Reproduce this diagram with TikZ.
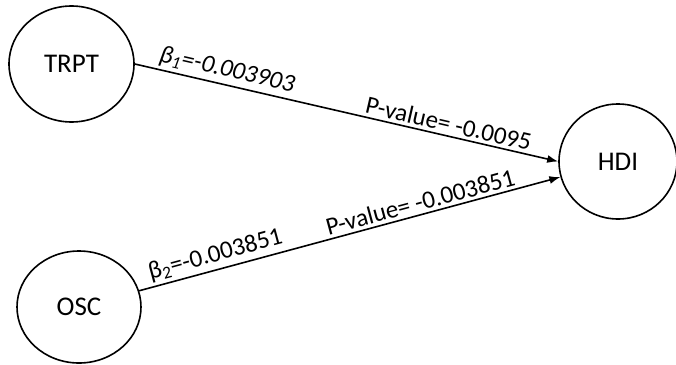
\documentclass[tikz,border=0pt]{standalone}
\usepackage{fontspec}
\setmainfont{Carlito}
\usetikzlibrary{shapes.geometric,arrows.meta}
\tikzset{
  var/.style={ellipse, draw, line width=1.6pt, inner sep=0pt,
    font=\fontsize{27}{32}\selectfont},
  link/.style={line width=1.6pt, -{Latex[length=11pt,width=8pt]}},
  coef/.style={sloped, above, inner sep=3pt, font=\fontsize{25}{30}\selectfont}
}
\begin{document}
\begin{tikzpicture}[x=1pt,y=-1pt]
  \useasboundingbox (0,0) rectangle (676,364);
  \node[var, minimum width=125pt, minimum height=116pt] (trpt) at (71.5,64) {TRPT};
  \node[var, minimum width=118pt, minimum height=115pt] (hdi) at (618,161.5) {HDI};
  \node[var, minimum width=124pt, minimum height=112pt] (osc) at (79,307) {OSC};
  \draw[link] (trpt.east) -- (hdi.west)
    node[coef, pos=0.21] {\itshape β\textsubscript{1}=-0.003903}
    node[coef, pos=0.735] {P-value= -0.0095};
  \draw[link] (osc) -- (hdi)
    node[coef, pos=0.19] {β\textsubscript{2}=-0.003851}
    node[coef, pos=0.675] {P-value= -0.003851};
\end{tikzpicture}
\end{document}
